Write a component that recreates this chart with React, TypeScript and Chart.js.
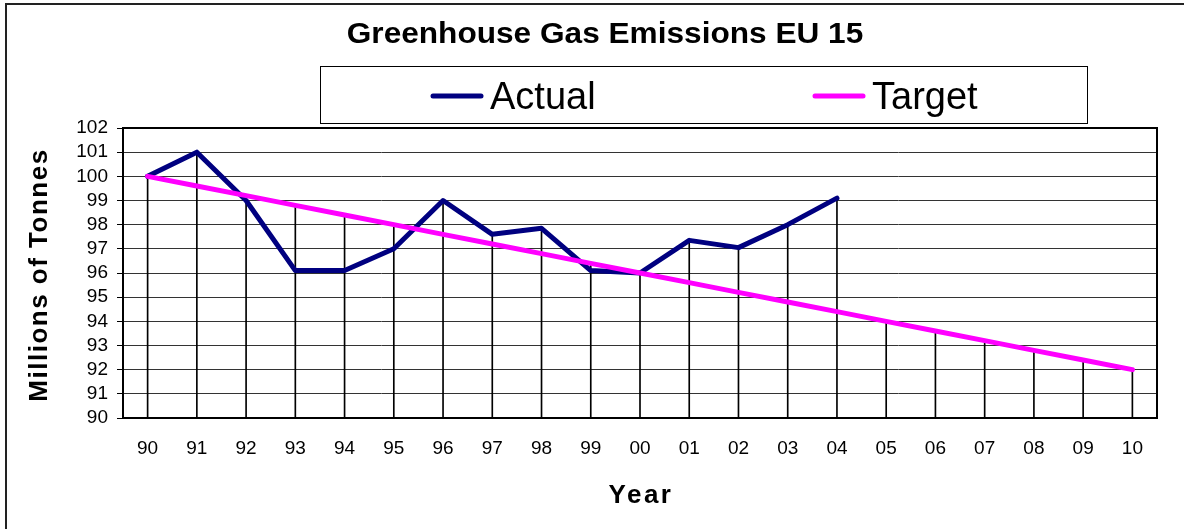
import React, { useEffect, useRef } from 'react';
import { Chart, registerables } from 'chart.js';

Chart.register(...registerables);

const years = ['90', '91', '92', '93', '94', '95', '96', '97', '98', '99', '00', '01', '02', '03', '04', '05', '06', '07', '08', '09', '10'];
const actual: (number | null)[] = [100, 101, 99, 96.1, 96.1, 97, 99, 97.6, 97.85, 96.1, 96, 97.35, 97.05, 98, 99.1, null, null, null, null, null, null];
const target: number[] = [100, 99.6, 99.2, 98.8, 98.4, 98, 97.6, 97.2, 96.8, 96.4, 96, 95.6, 95.2, 94.8, 94.4, 94, 93.6, 93.2, 92.8, 92.4, 92];
const yMin = 90;
const yMax = 102;
const yStep = 1;
const titleText = 'Greenhouse Gas Emissions EU 15';
const yTitle = 'Millions of Tonnes';
const xTitle = 'Year';

const FONT = '"Liberation Sans", Arial, sans-serif';

const decor = {
  id: 'decor',
  beforeDraw(chart: any) {
    const { ctx, width, height } = chart;
    ctx.save();
    ctx.fillStyle = '#ffffff';
    ctx.fillRect(0, 0, width, height);
    ctx.strokeStyle = '#222';
    ctx.lineWidth = 2;
    ctx.beginPath();
    ctx.moveTo(6, height + 5);
    ctx.lineTo(6, 4);
    ctx.lineTo(width + 5, 4);
    ctx.stroke();
    ctx.restore();
  },
  beforeDatasetsDraw(chart: any) {
    const { ctx, chartArea: a } = chart;
    ctx.save();
    ctx.strokeStyle = '#000';
    ctx.lineWidth = 2;
    ctx.strokeRect(a.left, a.top, a.right - a.left, a.bottom - a.top);
    ctx.restore();
  },
  afterDraw(chart: any) {
    const { ctx, chartArea: a } = chart;
    ctx.save();
    ctx.fillStyle = '#000';
    ctx.font = `bold 29px ${FONT}`;
    ctx.textAlign = 'center';
    ctx.textBaseline = 'alphabetic';
    ctx.save();
    ctx.translate(605, 43);
    ctx.scale(1.09, 1);
    ctx.fillText(titleText, 0, 0);
    ctx.restore();

    ctx.strokeStyle = '#000';
    ctx.lineWidth = 1;
    ctx.strokeRect(320.5, 66.5, 767, 57);
    const ds = chart.data.datasets;
    const items = [
      { d: ds[0], x: 431 },
      { d: ds[1], x: 813 },
    ];
    items.forEach(({ d, x }) => {
      ctx.strokeStyle = d.borderColor;
      ctx.lineWidth = 5;
      ctx.lineCap = 'round';
      ctx.beginPath();
      ctx.moveTo(x + 2, 96);
      ctx.lineTo(x + 50, 96);
      ctx.stroke();
      ctx.fillStyle = '#000';
      ctx.font = `38px ${FONT}`;
      ctx.textAlign = 'left';
      ctx.fillText(d.label, x + 59, 109);
    });

    ctx.fillStyle = '#000';
    ctx.font = `bold 26px ${FONT}`;
    (ctx as any).letterSpacing = '2.5px';
    ctx.textAlign = 'center';
    ctx.textBaseline = 'middle';
    ctx.fillText(xTitle, (a.left + a.right) / 2 + 1, 496);
    ctx.save();
    ctx.translate(40, (a.top + a.bottom) / 2 + 2);
    ctx.rotate(-Math.PI / 2);
    (ctx as any).letterSpacing = '1.5px';
    ctx.fillText(yTitle, 0, 0);
    ctx.restore();
    ctx.restore();
  },
};

export default function App() {
  const ref = useRef<HTMLCanvasElement | null>(null);
  useEffect(() => {
    if (!ref.current) return;
    const dropTops = years.map((_, i) => {
      const a = actual[i];
      return a == null ? target[i] : Math.max(a, target[i]);
    });
    const chart = new Chart(ref.current, {
      type: 'line',
      data: {
        labels: years,
        datasets: [
          {
            label: 'Actual',
            data: actual,
            borderColor: '#000080',
            backgroundColor: '#000080',
            borderWidth: 5,
            pointRadius: 0,
            borderCapStyle: 'round',
            borderJoinStyle: 'round',
            spanGaps: false,
            order: 2,
          } as any,
          {
            label: 'Target',
            data: target,
            borderColor: '#FF00FF',
            backgroundColor: '#FF00FF',
            borderWidth: 5,
            pointRadius: 0,
            borderCapStyle: 'round',
            borderJoinStyle: 'round',
            order: 1,
          } as any,
          {
            type: 'bar',
            label: 'drop',
            data: dropTops,
            backgroundColor: '#000',
            borderWidth: 0,
            barThickness: 1,
            order: 5,
          } as any,
        ],
      },
      options: {
        responsive: false,
        animation: false,
        layout: { padding: { left: 0, top: 128, right: 27, bottom: 0 } },
        plugins: {
          legend: { display: false },
          title: { display: false },
          tooltip: { enabled: false },
        },
        scales: {
          x: {
            type: 'category',
            offset: true,
            grid: { display: false, drawTicks: false },
            border: { display: false },
            ticks: {
              color: '#000',
              font: { family: FONT, size: 19 },
              padding: 19,
              maxRotation: 0,
              autoSkip: false,
            },
            afterFit(scale: any) {
              scale.height = 111;
            },
          },
          y: {
            type: 'linear',
            min: yMin,
            max: yMax,
            grid: {
              color: '#333',
              lineWidth: 1,
              drawTicks: true,
              tickLength: 6,
              tickColor: '#000',
            },
            border: { display: false },
            ticks: {
              stepSize: yStep,
              autoSkip: false,
              color: '#000',
              font: { family: FONT, size: 19 },
              padding: 9,
            },
            afterFit(scale: any) {
              scale.width = 123;
            },
          },
        },
      },
      plugins: [decor],
    });
    return () => chart.destroy();
  }, []);

  return (
    <div style={{ position: 'absolute', left: 0, top: 0, width: 1184, height: 529 }}>
      <canvas ref={ref} width={1184} height={529} style={{ display: 'block' }} />
    </div>
  );
}
